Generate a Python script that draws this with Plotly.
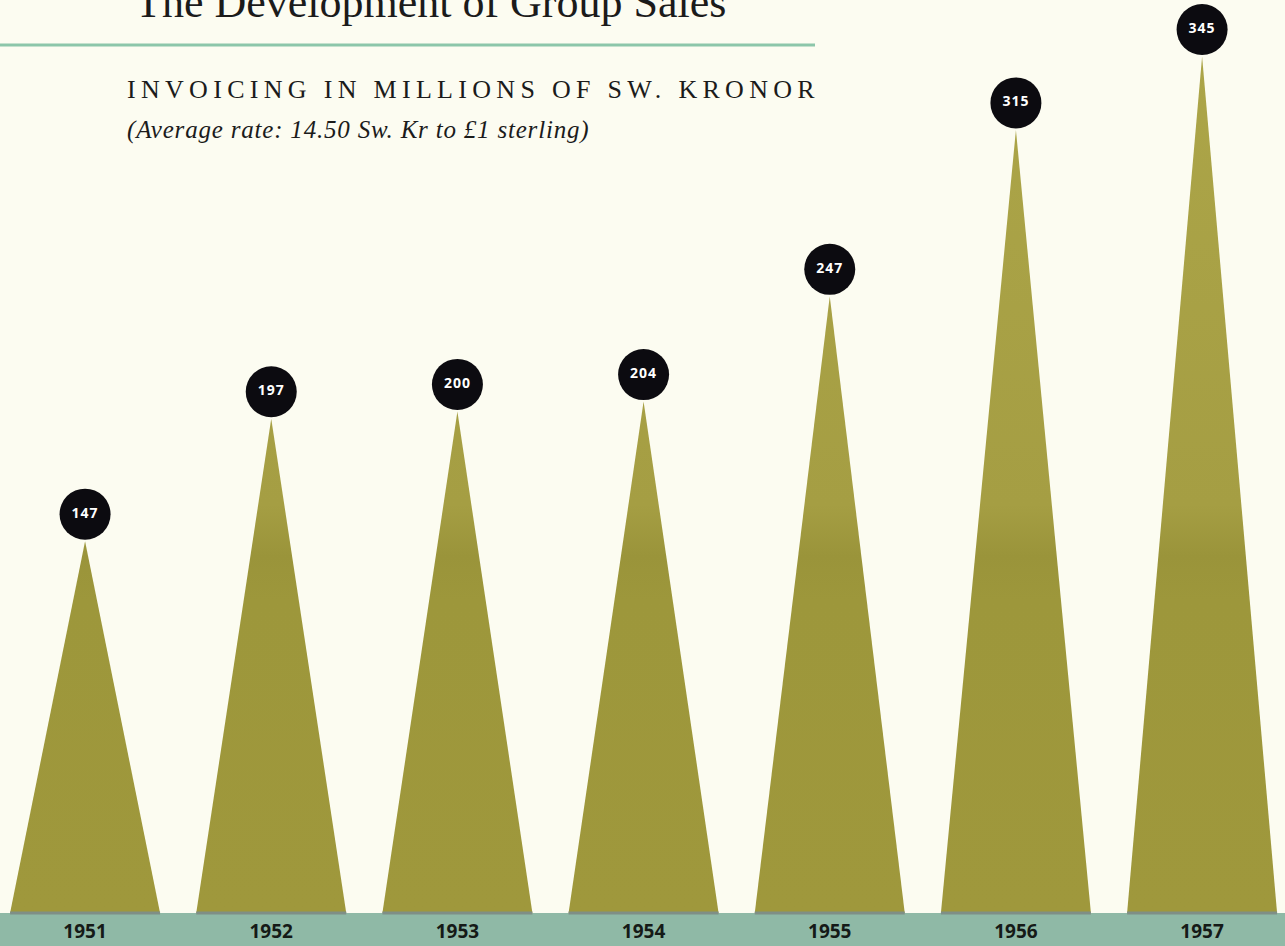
import plotly.graph_objects as go

# ---- data ----
years = ["1951", "1952", "1953", "1954", "1955", "1956", "1957"]
sales = [147, 197, 200, 204, 247, 315, 345]

title_text = "The Development of Group Sales"
subtitle_text = "INVOICING IN MILLIONS OF SW. KRONOR"
note_text = "(Average rate: 14.50 Sw. Kr to £1 sterling)"

# ---- geometry / style ----
W, H = 1285, 946
PX_PER_X = 186.17
X0_PX = 85.07
PX_PER_Y = 2.448
Y0_PX = 901.0
BAND_TOP_PX = 913.0

x_range = [-X0_PX / PX_PER_X, (W - X0_PX) / PX_PER_X]
y_range = [-(H - Y0_PX) / PX_PER_Y, Y0_PX / PX_PER_Y]
base_y = -(BAND_TOP_PX - Y0_PX) / PX_PER_Y
half_w = 75 / PX_PER_X
circle_off = 27 / PX_PER_Y
label_y = (y_range[0] + base_y) / 2 - 4 / PX_PER_Y

BG = "#fcfcf1"
OLIVE = "#a09a3e"
BAND = "#8fb9a6"
BASE_LINE = "#7f8f86"
TEAL_RULE = "#8cc6aa"

fig = go.Figure()

xs = list(range(len(years)))
for i, v in zip(xs, sales):
    fig.add_trace(go.Scatter(
        x=[i - half_w, i, i + half_w, i - half_w],
        y=[base_y, v, base_y, base_y],
        mode="lines", fill="toself",
        line=dict(width=0, color=OLIVE),
        fillcolor=OLIVE,
        fillgradient=dict(
            type="vertical",
            start=base_y, stop=350,
            colorscale=[[0.0, "#9f983c"], [0.36, "#9d973b"], [0.41, "#9a943a"],
                        [0.47, "#a59e43"], [1.0, "#aca548"]],
        ),
        hoverinfo="skip", showlegend=False,
    ))
    # darker base edge
    fig.add_trace(go.Scatter(
        x=[i - half_w, i + half_w], y=[base_y, base_y],
        mode="lines", line=dict(width=3, color=BASE_LINE),
        hoverinfo="skip", showlegend=False,
    ))

# value circles
fig.add_trace(go.Scatter(
    x=xs, y=[v + circle_off for v in sales],
    mode="markers+text",
    marker=dict(size=51, color="#0c0b10", line=dict(width=0)),
    text=[f'<span style="letter-spacing:1px">{v}</span>' for v in sales],
    textposition="middle center",
    textfont=dict(family="Open Sans", size=14, color="white", weight=700),
    hoverinfo="skip", showlegend=False,
))

# year labels in the band
fig.add_trace(go.Scatter(
    x=xs, y=[label_y] * len(xs),
    mode="text", text=years,
    textposition="middle center",
    textfont=dict(family="Open Sans", size=19, color="#151a17", weight=700),
    hoverinfo="skip", showlegend=False,
))

# bottom band
fig.add_shape(type="rect", xref="paper", x0=0, x1=1, yref="y",
              y0=y_range[0], y1=base_y, fillcolor=BAND, line=dict(width=0),
              layer="below")

# teal rule under title
fig.add_shape(type="line", xref="paper", yref="paper",
              x0=0, x1=815 / W, y0=1 - 45 / H, y1=1 - 45 / H,
              line=dict(color=TEAL_RULE, width=3))

fig.add_annotation(text=title_text, xref="paper", yref="paper",
                   x=133 / W, y=1 - 2 / H, xanchor="left", yanchor="middle",
                   showarrow=False,
                   font=dict(family="Liberation Serif", size=44, color="#1b1b1b"))
fig.add_annotation(text=f'<span style="letter-spacing:5.3px">{subtitle_text}</span>',
                   xref="paper", yref="paper",
                   x=125 / W, y=1 - 90 / H, xanchor="left", yanchor="middle",
                   showarrow=False,
                   font=dict(family="Liberation Serif", size=26, color="#1b1b1b"))
fig.add_annotation(text=f'<i><span style="letter-spacing:0.8px">{note_text}</span></i>',
                   xref="paper", yref="paper",
                   x=125 / W, y=1 - 130 / H, xanchor="left", yanchor="middle",
                   showarrow=False,
                   font=dict(family="Liberation Serif", size=25, color="#1b1b1b"))

fig.update_layout(
    width=W, height=H,
    margin=dict(l=0, r=0, t=0, b=0),
    paper_bgcolor=BG, plot_bgcolor=BG,
    xaxis=dict(range=x_range, visible=False, fixedrange=True),
    yaxis=dict(range=y_range, visible=False, fixedrange=True),
    showlegend=False,
)

fig.write_html("out.html")
